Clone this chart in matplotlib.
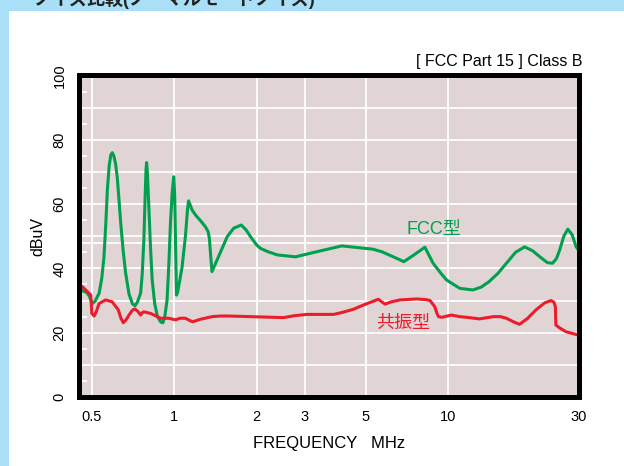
import matplotlib
matplotlib.use('Agg')
import matplotlib.pyplot as plt
from matplotlib.patches import Rectangle

plt.rcParams['font.family'] = ['Liberation Sans', 'Noto Sans CJK JP']

# FCC型 noise level (MHz, dBuV)
fcc_freq = [0.45, 0.48, 0.49, 0.503, 0.515, 0.533, 0.545, 0.555, 0.563, 0.571, 0.58, 0.588,
            0.595, 0.603, 0.612, 0.621, 0.63, 0.639, 0.652, 0.666, 0.685, 0.705, 0.72, 0.735,
            0.755, 0.765, 0.776, 0.784, 0.79, 0.794, 0.799, 0.809, 0.82, 0.832, 0.85, 0.87,
            0.895, 0.91, 0.925, 0.943, 0.958, 0.97, 0.985, 0.997, 1.005, 1.012, 1.02, 1.03,
            1.05, 1.07, 1.10, 1.12, 1.13, 1.163, 1.20, 1.25, 1.30, 1.33, 1.345, 1.36, 1.375,
            1.45, 1.563, 1.65, 1.758, 1.83, 1.9, 2.0, 2.07, 2.2, 2.38, 2.77, 3.32, 4.09, 4.77,
            5.3, 5.72, 6.31, 6.89, 7.5, 8.22, 8.81, 9.4, 9.86, 11.02, 12.3, 13.2, 14.1, 15.2,
            16.3, 17.6, 19.0, 20.3, 21.6, 23.0, 24.0, 24.8, 25.5, 26.4, 27.3, 28.3, 29.3, 30.0]
fcc_db = [33.5, 32.5, 31.5, 29.0, 29.8, 32.3, 37.0, 43.6, 53.0, 64.4, 72.0, 75.3,
          76.0, 75.0, 72.5, 68.0, 61.0, 54.0, 45.5, 38.5, 32.0, 29.0, 28.4, 29.5,
          32.3, 38.0, 48.8, 62.0, 70.5, 72.9, 70.0, 59.2, 47.0, 36.4, 29.0, 25.0,
          23.3, 23.1, 25.0, 30.2, 42.0, 54.0, 64.0, 68.5, 63.0, 48.8, 31.7, 32.5,
          36.5, 40.5, 50.0, 58.5, 61.0, 58.2, 56.5, 54.8, 53.0, 51.5, 49.5, 44.0, 39.0,
          43.5, 49.9, 52.5, 53.5, 52.0, 49.9, 47.3, 46.2, 45.2, 44.2, 43.6, 45.2, 47.0, 46.4,
          46.0, 45.2, 43.6, 42.1, 44.2, 46.6, 41.6, 38.5, 36.4, 33.8, 33.3, 34.2, 35.9, 38.5,
          41.6, 45.0, 46.7, 45.5, 43.6, 41.8, 41.6, 43.0, 45.7, 50.0, 52.2, 50.5, 46.7, 45.5]

# 共振型 noise level (MHz, dBuV)
res_freq = [0.45, 0.463, 0.48, 0.497, 0.501, 0.511, 0.52, 0.533, 0.563, 0.595, 0.626, 0.64,
            0.653, 0.668, 0.685, 0.705, 0.72, 0.74, 0.755, 0.765, 0.776, 0.821, 0.86, 0.892,
            0.957, 1.012, 1.05, 1.10, 1.14, 1.17, 1.25, 1.375, 1.48, 1.58, 2.51, 2.75, 3.06,
            3.82, 4.1, 4.51, 5.0, 5.56, 5.88, 6.2, 6.67, 7.67, 8.3, 8.59, 8.93, 9.1, 9.22,
            9.48, 10.27, 11.0, 11.67, 13.0, 14.6, 15.5, 16.3, 17.2, 18.2, 19.5, 20.9, 22.5,
            23.7, 24.3, 24.6, 24.7, 25.5, 26.9, 28.3, 30.0]
res_db = [35.0, 34.3, 33.0, 31.7, 26.0, 25.2, 26.5, 29.1, 30.2, 29.6, 27.1, 24.5,
          23.1, 24.0, 25.5, 27.0, 27.4, 26.5, 25.5, 26.2, 26.5, 26.0, 25.2, 24.5,
          24.5, 24.0, 24.5, 24.5, 23.8, 23.4, 24.2, 25.0, 25.2, 25.2, 24.7, 25.3, 25.7,
          25.7, 26.3, 27.3, 28.9, 30.4, 28.9, 29.6, 30.2, 30.5, 30.3, 30.0, 28.1, 26.0, 25.0,
          24.8, 25.5, 25.0, 24.8, 24.3, 25.0, 25.0, 24.5, 23.5, 22.6, 24.5, 27.1, 29.3,
          30.0, 29.5, 28.1, 22.4, 21.5, 20.3, 19.8, 19.2]

freq_ticks = [0.5, 1, 2, 3, 5, 10, 30]
freq_labels = ['0.5', '1', '2', '3', '5', '10', '30']
db_ticks = [0, 20, 40, 60, 80, 100]
db_grid = [10, 20, 30, 40, 50, 60, 70, 80, 90]
db_minor = [5, 15, 25, 35, 45, 55, 65, 75, 85, 95]
fcc_limit = 48

green = '#00a04e'
red = '#ec1c2a'
blue = '#aadff8'

fig = plt.figure(figsize=(6.24, 4.66), dpi=100)
fig.patch.set_facecolor('white')

# light blue frame of the page
fig.patches.append(Rectangle((0, 0.9765), 1, 0.0235, transform=fig.transFigure,
                             facecolor=blue, edgecolor='none', zorder=0))
fig.patches.append(Rectangle((0, 0), 0.0144, 1, transform=fig.transFigure,
                             facecolor=blue, edgecolor='none', zorder=0))
# page heading, cut off at the top like the original scan
fig.text(0.053, 0.99, 'ノイズ比較(ノーマルモードノイズ)', fontsize=13, fontweight='bold',
         color='#222222', ha='left', va='baseline')

ax = fig.add_axes([0.1266, 0.148, 0.8013, 0.690])
ax.set_facecolor('#e0d4d5')

for v in db_grid:
    ax.axhline(v, color='white', lw=1.3, zorder=1)
ax.axhline(fcc_limit, color='white', lw=1.3, zorder=1)
for f in freq_ticks[:-1]:
    ax.axvline(f, color='white', lw=1.3, zorder=1)

ax.plot(fcc_freq, fcc_db, color=green, lw=2.2, zorder=3)
ax.plot(res_freq, res_db, color=red, lw=2.2, zorder=3)

ax.set_xscale('log')
ax.set_xlim(0.45, 30)
ax.set_ylim(0, 100)
ax.set_xticks(freq_ticks)
ax.set_xticklabels(freq_labels)
ax.minorticks_off()
ax.set_yticks(db_ticks)
ax.set_yticks(db_minor, minor=True)
ax.tick_params(axis='x', which='major', length=0, pad=9, labelsize=10.5)
ax.tick_params(axis='y', which='major', length=0, pad=9, labelsize=10.5, labelrotation=90)
ax.tick_params(axis='y', which='minor', direction='in', length=6, width=1.3, color='white')
for lab in ax.get_yticklabels():
    lab.set_va('center')

for s in ax.spines.values():
    s.set_linewidth(3.6)
    s.set_color('black')
    s.set_zorder(5)

ax.set_xlabel('FREQUENCY   MHz', fontsize=12, labelpad=9)
ax.set_ylabel('dBuV', fontsize=11.5, labelpad=5)

ax.text(8.86, 52.1, 'FCC型', color=green, fontsize=13, ha='center', va='center', zorder=4)
ax.text(6.84, 23.0, '共振型', color=red, fontsize=13, ha='center', va='center', zorder=4)

fig.text(0.9327, 0.867, '[ FCC Part 15 ] Class B', fontsize=11.5, ha='right', va='center')

plt.savefig('out.png', dpi=100)
